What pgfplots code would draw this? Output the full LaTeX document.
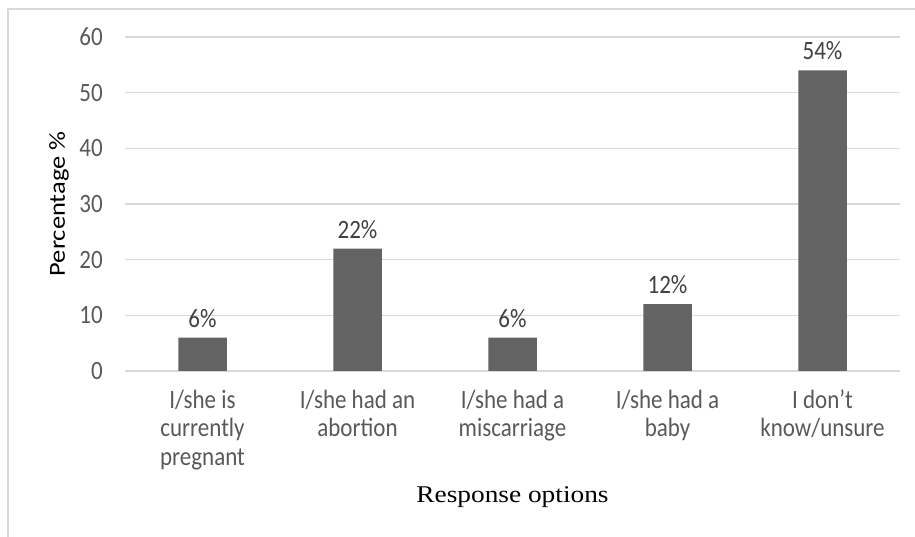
\documentclass[border=0pt]{standalone}
\usepackage{fontspec}
\setmainfont{Carlito}
\newfontfamily\titleserif{Liberation Serif}
\usepackage{graphicx}
\usepackage{pgfplots}
\pgfplotsset{compat=1.18}

\definecolor{barfill}{HTML}{636363}
\definecolor{gridc}{HTML}{D9D9D9}
\definecolor{tickc}{HTML}{595959}
\definecolor{labc}{HTML}{404040}

% the reference text is a little taller than Carlito
\newcommand\vs[1]{\scalebox{1}[1.15]{#1}}
\newcommand\ml[1]{\vs{\def\arraystretch{1}\begin{tabular}{@{}c@{}}#1\end{tabular}}}

\begin{document}
\begin{tikzpicture}
  \path[use as bounding box] (0,0) rectangle (915pt,537pt);
  % outer chart frame (cropped at right and bottom)
  \draw[gridc, line width=1.5pt] (8pt,-20pt) -- (8pt,528pt) -- (940pt,528pt);
  \begin{axis}[
      at={(125pt,166pt)}, anchor=south west,
      scale only axis,
      width=775pt, height=334pt,
      ymin=0, ymax=60,
      xmin=-0.5, xmax=4.5,
      ytick={0,10,...,60},
      yticklabel={\vs{\pgfmathprintnumber{\tick}}},
      xtick={0,1,2,3,4},
      xticklabels={
        {\ml{I/she is\\currently\\pregnant}},
        {\ml{I/she had an\\abortion}},
        {\ml{I/she had a\\miscarriage}},
        {\ml{I/she had a\\baby}},
        {\ml{I don’t\\know/unsure}}},
      axis line style={draw=none},
      major tick length=0pt,
      ymajorgrids,
      grid style={gridc, line width=1.5pt},
      /pgf/number format/assume math mode=true,
      tick label style={font=\fontsize{23}{24.8}\selectfont, text=tickc, inner sep=0pt},
      yticklabel style={xshift=-22pt},
      xticklabel style={anchor=north, yshift=-17pt},
      ylabel={\scalebox{1.15}[1]{Percentage \%}},
      ylabel style={at={(axis description cs:-0.0852,0.5)}, anchor=center,
        font=\fontsize{23}{28}\selectfont, text=black},
      xlabel={\scalebox{1.14}[1]{\titleserif Response options}},
      xlabel style={at={(axis description cs:0.5,0)}, anchor=base, yshift=-132pt,
        font=\fontsize{24}{28}\selectfont, text=black},
      ybar, bar width=48.5pt,
      nodes near coords={\vs{\pgfmathprintnumber{\pgfplotspointmeta}\%}},
      every node near coord/.append style={font=\fontsize{23}{28}\selectfont,
        text=labc, inner sep=0pt, anchor=south, yshift=10pt},
    ]
    \addplot[fill=barfill, draw=none] coordinates {
      (0,6) (1,22) (2,6) (3,12) (4,54)
    };
  \end{axis}
\end{tikzpicture}
\end{document}
